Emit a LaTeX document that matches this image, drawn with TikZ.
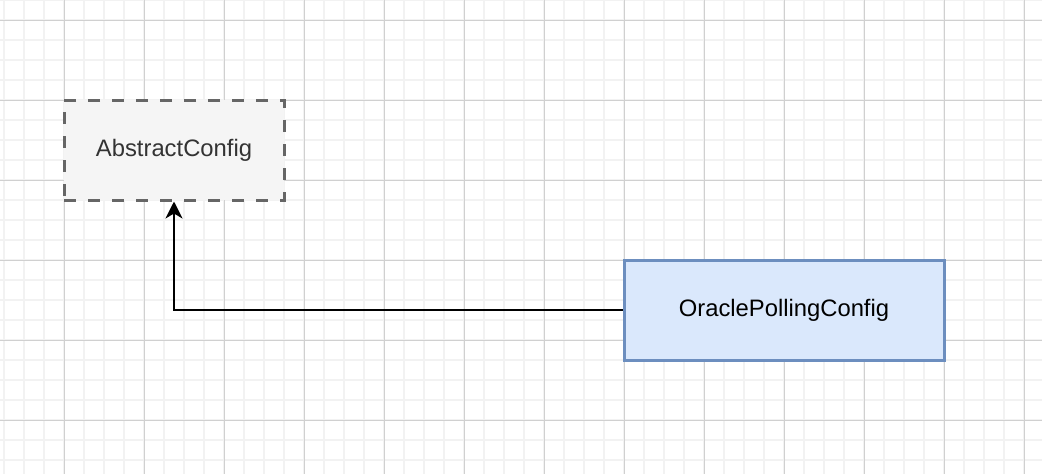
\documentclass[tikz,border=0pt]{standalone}
\usepackage{fontspec}
\setmainfont{Liberation Sans}
\usetikzlibrary{arrows.meta}
\definecolor{minorgrid}{HTML}{F2F2F2}
\definecolor{majorgrid}{HTML}{D0D0D0}
\definecolor{absfill}{HTML}{F5F5F5}
\definecolor{absline}{HTML}{666666}
\definecolor{abstext}{HTML}{333333}
\definecolor{blfill}{HTML}{DAE8FC}
\definecolor{blline}{HTML}{6C8EBF}
\tikzset{
  abstractbox/.style={draw=absline, fill=absfill, line width=3pt, dash pattern=on 12pt off 12pt,
    minimum width=220pt, minimum height=100pt, inner sep=0pt, text=abstext,
    font=\fontsize{23.8}{28}\selectfont},
  classbox/.style={draw=blline, fill=blfill, line width=3pt,
    minimum width=320pt, minimum height=100pt, inner sep=0pt, text=black,
    font=\fontsize{23.8}{28}\selectfont},
  inherit/.style={line width=2pt, -{Stealth[length=17pt,width=17pt,inset=5pt]}}
}
\begin{document}
\begin{tikzpicture}[x=1pt,y=-1pt]
\useasboundingbox (0,0) rectangle (1042,474);
\fill[white] (0,0) rectangle (1042,474);
% minor grid
\foreach \x in {4,24,...,1044} \draw[minorgrid, line width=1.6pt] (\x,0) -- (\x,474);
\foreach \y in {0,20,...,474} \draw[minorgrid, line width=1.6pt] (0,\y) -- (1042,\y);
% major grid
\foreach \x in {64,144,...,1044} \draw[majorgrid, line width=1pt] (\x,0) -- (\x,474);
\foreach \y in {20,100,...,474} \draw[majorgrid, line width=1pt] (0,\y) -- (1042,\y);
% nodes
\node[abstractbox] (abs) at (174,150) {AbstractConfig};
\node[classbox] (opc) at (784,310) {OraclePollingConfig};
% connector
\draw[inherit] (opc.west) -| (abs.south);
\end{tikzpicture}
\end{document}
